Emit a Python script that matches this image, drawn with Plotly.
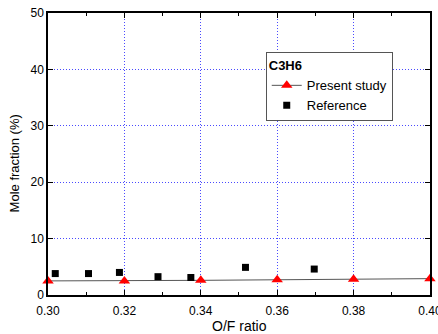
import plotly.graph_objects as go

present_x = [0.30, 0.32, 0.34, 0.36, 0.38, 0.40]
present_y = [2.5, 2.5, 2.6, 2.7, 2.8, 2.9]
ref_x = [0.3019, 0.3106, 0.3187, 0.3288, 0.3374, 0.3517, 0.3697]
ref_y = [3.8, 3.8, 4.0, 3.25, 3.1, 4.9, 4.6]

FONT = "Liberation Sans, Arial"

fig = go.Figure()
fig.add_trace(go.Scatter(x=present_x, y=present_y, mode="lines+markers", name="Present study",
                         line=dict(color="#555555", width=1),
                         marker=dict(symbol="triangle-up", color="red", size=10), cliponaxis=False))
fig.add_trace(go.Scatter(x=ref_x, y=ref_y, mode="markers", name="Reference",
                         marker=dict(symbol="square", color="black", size=7)))

axis_common = dict(showline=True, linecolor="black", linewidth=1.5, mirror="ticks",
                   ticks="inside", ticklen=5, tickcolor="black", automargin=False,
                   showgrid=True, gridcolor="#4a4aff", griddash="1px,2px", gridwidth=1,
                   zeroline=False, tickfont=dict(family=FONT, size=12, color="black"))

fig.update_xaxes(range=[0.30, 0.40001], tickvals=[0.30, 0.32, 0.34, 0.36, 0.38, 0.40],
                 ticktext=["0.30", "0.32", "0.34", "0.36", "0.38", "0.40"],
                 ticklabelstandoff=4, ticklabeloverflow="allow",
                 minor=dict(dtick=0.01, ticks="inside", ticklen=3, tickcolor="black", showgrid=False),
                 **axis_common)
fig.update_yaxes(range=[0, 50], dtick=10, **axis_common)

fig.add_annotation(text="O/F ratio", xref="paper", yref="paper", x=0.5, y=-0.11,
                   xanchor="center", yanchor="middle", showarrow=False,
                   font=dict(family=FONT, size=14, color="black"))
fig.add_annotation(text="Mole fraction (%)", xref="paper", yref="paper",
                   x=-0.088, y=0.468, xanchor="center", yanchor="middle", showarrow=False,
                   textangle=-90, font=dict(family=FONT, size=13, color="black"))

fig.update_layout(
    width=438, height=334,
    margin=dict(l=48, r=8, t=13, b=39, autoexpand=False),
    plot_bgcolor="white", paper_bgcolor="white",
    legend=dict(title=dict(text="<b>C3H6</b>", font=dict(family=FONT, size=13, color="black")),
                x=0.57, y=0.86, xanchor="left", yanchor="top",
                bordercolor="#555555", borderwidth=1, bgcolor="white",
                font=dict(family=FONT, size=13, color="black"),
                tracegroupgap=0),
)

fig.write_html("out.html")
